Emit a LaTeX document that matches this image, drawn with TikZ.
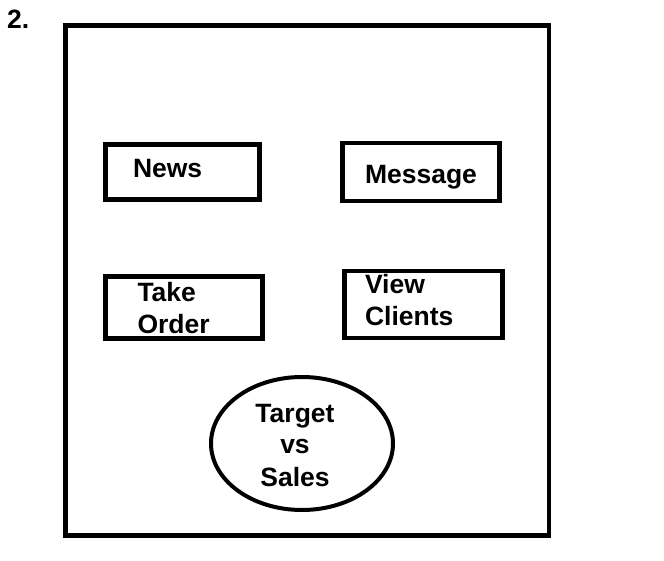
\documentclass[tikz,border=0pt]{standalone}
\usepackage{fontspec}
\setmainfont{Liberation Sans}
\usepackage{tikz}
\usetikzlibrary{shapes.geometric}
\usetikzlibrary{positioning}
\tikzset{
    menu/.style={
           rectangle,
           draw=black, line width=4.5pt,
           inner ysep=0pt,
           align=left,
           font=\fontsize{26.5}{32}\selectfont\bfseries,
           },
    chart/.style={
           ellipse,
           draw=black, line width=4pt,
           inner sep=0pt,
           minimum width=182pt,
           minimum height=133pt,
           font=\fontsize{26.5}{32}\selectfont\bfseries,
           },
}
\begin{document}
\begin{tikzpicture}[x=1pt,y=1pt]
  \useasboundingbox (0,0) rectangle (664,560);
  \node[anchor=base west, inner sep=0pt,
 font=\fontsize{26.5}{32}\selectfont\bfseries] (num) at (7,531) {2.};
  \draw[line width=4.5pt] (65.5,534.5) rectangle (549,24.5);

  \node[menu,
 minimum width=154pt, minimum height=55pt,
 text width=99pt, inner xsep=27.5pt,
 text height=20pt, text depth=8pt] (news) at (182.5,388)
 {News};
  \node[menu,
 right of=news,
 node distance=238.5pt,
 minimum width=157pt, minimum height=58pt,
 text width=112pt, inner xsep=22.5pt,
 text height=26pt, text depth=3pt] (message)
 {Message};
  \node[menu,
 below of=news,
 node distance=135.5pt,
 xshift=1.5pt,
 minimum width=157pt, minimum height=62pt,
 text width=93pt, inner xsep=32pt,
 text height=20pt, text depth=31pt] (order)
 {Take\\Order};
  \node[menu,
 below of=message,
 node distance=132.5pt,
 xshift=2.5pt,
 minimum width=158pt, minimum height=67pt,
 text width=117pt, inner xsep=20.5pt,
 text height=20pt, text depth=42pt] (clients)
 {View\\Clients};
 % target against sales in the middle below
  \node[chart,
 text height=20pt, text depth=63pt] (target) at (302,116.5)
 {%
 \begin{tabular}[t]{@{}c@{\hspace{14pt}}}
  Target\\
  vs\\
  Sales
 \end{tabular}
 };
\end{tikzpicture}
\end{document}
